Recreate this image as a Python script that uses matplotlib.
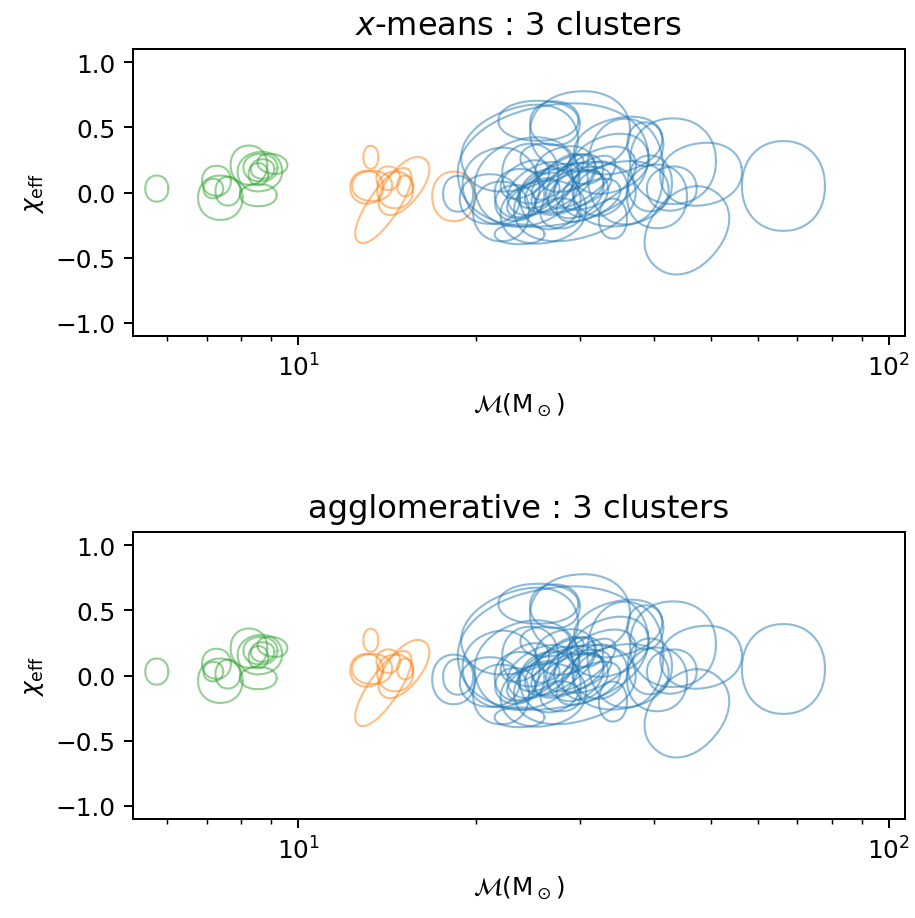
import numpy as np
import matplotlib
matplotlib.use("Agg")
import matplotlib.pyplot as plt

# ========== Data (one closed credible contour per event) ==========
# centre chirp mass (Msun), centre chi_eff, half width / half height (in chi units
# on screen), tilt in degrees, cluster label for each method (0 blue, 1 orange, 2 green)
chirp_mass = [5.76, 7.38, 7.27, 7.60, 8.25, 8.56, 8.61, 8.63, 8.70, 9.04, 8.56, 7.18,
              13.27, 13.06, 13.34, 13.93, 15.10, 14.59, 15.17, 14.20, 18.33,
              18.65, 66.3, 45.5, 48.1, 43.1, 40.5, 35.8, 30.0, 27.2, 25.5,
              27.0, 26.0, 29.4, 24.4, 34.1, 25.7, 27.8, 29.4, 31.8, 23.7,
              26.7, 30.6, 32.4, 24.7, 28.3, 33.7, 38.7, 22.05, 21.1, 34.8,
              35.2, 27.8, 30.6, 26.2, 23.3, 39.4, 42.9, 23.7, 23.7, 22.05,
              26.5, 28.8, 30.2, 25.0, 27.5, 31.0, 24.2, 29.0]
chi_eff = [0.03, -0.04, 0.09, 0.01, 0.21, -0.02, 0.16, 0.19, 0.18, 0.22, 0.14, 0.03,
           0.27, 0.04, 0.05, -0.10, 0.05, 0.02, 0.05, 0.11, -0.03,
           -0.01, 0.05, -0.29, 0.14, 0.24, -0.03, 0.16, 0.47, 0.53, 0.55,
           0.21, -0.15, -0.07, 0.08, -0.20, 0.03, 0.07, 0.015, 0.11, -0.01,
           -0.05, -0.01, 0.03, 0.145, 0.18, 0.22, 0.37, 0.05, -0.05, 0.36,
           -0.01, -0.16, 0.18, 0.26, -0.08, 0.07, 0.03, 0.34, -0.32, -0.145,
           0.05, 0.0, 0.08, -0.04, 0.12, -0.06, 0.10, 0.02]
half_w = [0.088, 0.17, 0.11, 0.095, 0.14, 0.14, 0.17, 0.13, 0.09, 0.075, 0.075, 0.075,
          0.057, 0.126, 0.153, 0.336, 0.26, 0.137, 0.061, 0.09, 0.164,
          0.115, 0.317, 0.366, 0.313, 0.328, 0.229, 0.29, 0.382, 0.19, 0.305,
          0.733, 0.328, 0.473, 0.405, 0.107, 0.27, 0.31, 0.23, 0.34, 0.19,
          0.23, 0.19, 0.21, 0.214, 0.229, 0.305, 0.137, 0.29, 0.229, 0.343,
          0.366, 0.153, 0.137, 0.19, 0.153, 0.168, 0.19, 0.458, 0.19, 0.214,
          0.26, 0.28, 0.30, 0.22, 0.24, 0.26, 0.2, 0.32]
half_h = [0.10, 0.17, 0.115, 0.11, 0.15, 0.085, 0.15, 0.105, 0.075, 0.115, 0.085, 0.075,
          0.088, 0.126, 0.115, 0.115, 0.13, 0.141, 0.08, 0.09, 0.19,
          0.137, 0.344, 0.275, 0.237, 0.328, 0.244, 0.405, 0.305, 0.168, 0.153,
          0.458, 0.237, 0.282, 0.328, 0.153, 0.17, 0.15, 0.19, 0.19, 0.19,
          0.229, 0.15, 0.2, 0.229, 0.168, 0.214, 0.168, 0.29, 0.19, 0.206,
          0.244, 0.115, 0.115, 0.115, 0.137, 0.214, 0.168, 0.305, 0.076, 0.229,
          0.12, 0.13, 0.12, 0.11, 0.10, 0.13, 0.12, 0.14]
tilt = [0, 0, 0, 0, 0, 0, 10, 0, 0, 80, 0, 0,
        0, 0, 0, 56, 52, 0, 0, 0, 0,
        0, 0, 50, 10, 0, 0, 0, 5, 0, 0,
        10, 10, 15, 20, 0, 30, 35, 40, 30, 0,
        20, 45, 40, 0, 15, 20, 0, 20, 0, 15,
        10, 0, 0, 0, 0, 0, 10, 20, 0, 0,
        30, 25, 35, 30, 40, 25, 30, 20]
xmeans_label = [2] * 12 + [1] * 9 + [0] * 48
agglo_label = [2] * 12 + [1] * 8 + [0] * 49

colors = ['tab:blue', 'tab:orange', 'tab:green']
titles = [r'$x$-means : 3 clusters', 'agglomerative : 3 clusters']
ASPECT = 591.0 / 131.0   # screen chi units per decade of chirp mass


def contourPath(mc, chi, a, b, ang, n=2.15):
    """Rounded closed curve around one event, in (mass, chi) coordinates."""
    t = np.linspace(0, 2 * np.pi, 200)
    c, s = np.cos(t), np.sin(t)
    u = a * np.sign(c) * np.abs(c) ** (2 / n)
    v = b * np.sign(s) * np.abs(s) ** (2 / n)
    r = np.radians(ang)
    ur = u * np.cos(r) - v * np.sin(r)
    vr = u * np.sin(r) + v * np.cos(r)
    return 10 ** (np.log10(mc) + ur / ASPECT), chi + vr


# ========== Figure ==========
fig = plt.figure(figsize=(915 / 178, 919 / 178), dpi=178)
bottoms = [1 - 337 / 919, 1 - 820 / 919]
for panel, labels in enumerate([xmeans_label, agglo_label]):
    ax = fig.add_axes([133 / 915, bottoms[panel], 772 / 915, 287 / 919])
    for i in range(len(chirp_mass)):
        xs, ys = contourPath(chirp_mass[i], chi_eff[i], half_w[i], half_h[i], tilt[i])
        ax.plot(xs, ys, color=colors[labels[i]], alpha=0.5, lw=0.85)
    ax.set_xscale('log')
    ax.set_xlim(5.25, 106.5)
    ax.set_ylim(-1.1, 1.1)
    ax.set_yticks([-1.0, -0.5, 0.0, 0.5, 1.0])
    ax.set_xlabel(r'$\mathcal{M}(\rm M_\odot)$')
    ax.set_ylabel(r'$\chi_{\rm eff}$')
    ax.set_title(titles[panel], fontsize=13)

fig.savefig('out.png', dpi=178)
